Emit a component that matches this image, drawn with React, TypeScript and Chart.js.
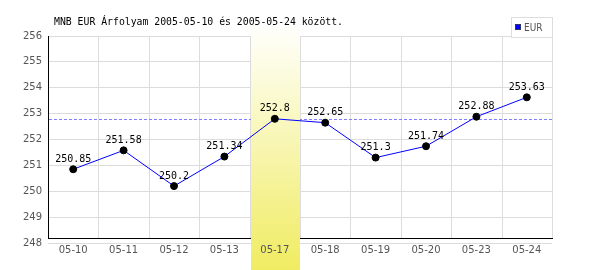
import React, { useEffect, useRef } from "react";
import { Chart, registerables } from "chart.js";

Chart.register(...registerables);

const categories = ["05-10", "05-11", "05-12", "05-13", "05-17", "05-18", "05-19", "05-20", "05-23", "05-24"];
const eurValues = [250.85, 251.58, 250.2, 251.34, 252.8, 252.65, 251.3, 251.74, 252.88, 253.63];
const yMin = 248;
const yMax = 256;
const highlightIndex = 4;
const referenceValue = 252.8;
const titleText = "MNB EUR Árfolyam 2005-05-10 és 2005-05-24 között.";
const seriesName = "EUR";

const decorPlugin = {
  id: "decor",
  beforeDatasetsDraw(chart: any) {
    const { ctx, chartArea } = chart;
    const xs = chart.scales.x;
    const ys = chart.scales.y;
    const { left, right, top } = chartArea;
    const n = categories.length;
    const axisY = Math.round(ys.getPixelForValue(yMin + 0.19)) + 0.5;
    ctx.save();
    // vertical grid lines (category boundaries)
    ctx.strokeStyle = "#dcdcdc";
    ctx.lineWidth = 1;
    for (let i = 1; i <= n; i++) {
      const x = Math.round(left + (i * (right - left)) / n) + 0.5;
      ctx.beginPath();
      ctx.moveTo(x, top);
      ctx.lineTo(x, axisY);
      ctx.stroke();
    }
    // reference dashed line
    const ry = Math.round(ys.getPixelForValue(referenceValue));
    ctx.fillStyle = "#8080ff";
    for (let x = Math.round(left) + 1; x < right; x += 5) {
      ctx.fillRect(x, ry, Math.min(3, right - x), 1);
    }
    // axis lines
    ctx.strokeStyle = "#000000";
    ctx.beginPath();
    ctx.moveTo(left + 0.5, top);
    ctx.lineTo(left + 0.5, axisY);
    ctx.moveTo(left, axisY);
    ctx.lineTo(right + 1, axisY);
    ctx.stroke();
    // highlight band
    const cx = xs.getPixelForValue(highlightIndex);
    const half = (right - left) / n / 2;
    const bx0 = Math.round(cx - half) + 1;
    const bx1 = Math.round(cx + half);
    const g = ctx.createLinearGradient(0, 27, 0, chart.height);
    g.addColorStop(0, "#fffffc");
    g.addColorStop(1, "#f0ec62");
    ctx.fillStyle = g;
    ctx.fillRect(bx0, 27, bx1 - bx0, chart.height - 27);
    ctx.restore();
  },
  afterDatasetsDraw(chart: any) {
    const { ctx } = chart;
    const meta = chart.getDatasetMeta(0);
    ctx.save();
    ctx.fillStyle = "#000000";
    ctx.font = "10px 'DejaVu Sans Mono'";
    ctx.textAlign = "center";
    ctx.textBaseline = "middle";
    meta.data.forEach((pt: any, i: number) => {
      ctx.fillText(String(eurValues[i]), pt.x, pt.y - 10);
    });
    // title
    ctx.textAlign = "left";
    ctx.textBaseline = "alphabetic";
    ctx.font = "9.8px 'DejaVu Sans Mono'";
    ctx.fillText(titleText, 54, 25);
    // legend
    ctx.fillStyle = "#ffffff";
    ctx.fillRect(511, 17, 41, 20);
    ctx.strokeStyle = "#dddddd";
    ctx.lineWidth = 1;
    ctx.strokeRect(511.5, 17.5, 41, 20);
    ctx.fillStyle = "#0000ff";
    ctx.fillRect(515, 24, 6, 6);
    ctx.strokeStyle = "#333366";
    ctx.strokeRect(515.5, 24.5, 5, 5);
    ctx.fillStyle = "#555555";
    ctx.font = "10px 'DejaVu Sans Condensed', 'DejaVu Sans'";
    ctx.textBaseline = "middle";
    ctx.fillText(seriesName, 524, 28);
    ctx.restore();
  },
};

export default function App() {
  const ref = useRef<HTMLCanvasElement | null>(null);
  useEffect(() => {
    document.body.style.margin = "0";
    const canvas = ref.current;
    if (!canvas) return;
    const chart = new Chart(canvas, {
      type: "line",
      data: {
        labels: categories,
        datasets: [
          {
            label: seriesName,
            data: eurValues,
            borderColor: "#0000ff",
            borderWidth: 1,
            pointRadius: 3.5,
            pointBackgroundColor: "#000000",
            pointBorderColor: "#000000",
            pointBorderWidth: 1,
            tension: 0,
            fill: false,
          },
        ],
      },
      options: {
        responsive: false,
        animation: false,
        devicePixelRatio: 1,
        events: [],
        layout: { padding: { left: 0, top: 36, right: 48, bottom: 0 } },
        plugins: { legend: { display: false }, title: { display: false }, tooltip: { enabled: false } },
        scales: {
          x: {
            type: "category",
            offset: true,
            grid: { display: false, offset: true, drawTicks: false },
            border: { display: false },
            ticks: {
              color: "#555555",
              font: { family: "'DejaVu Sans'", size: 10 },
              padding: 1,
              maxRotation: 0,
              autoSkip: false,
              z: 1,
            },
            afterFit: (s: any) => {
              s.height = 27;
            },
          },
          y: {
            min: yMin,
            max: yMax,
            grid: { color: "#dcdcdc", drawTicks: false },
            border: { display: false },
            ticks: {
              stepSize: 1,
              color: "#555555",
              font: { family: "'DejaVu Sans'", size: 10 },
              padding: 6,
            },
            afterFit: (s: any) => {
              s.width = 48;
            },
          },
        },
      },
      plugins: [decorPlugin],
    });
    return () => chart.destroy();
  }, []);
  return (
    <div style={{ width: 600, height: 270, background: "#ffffff" }}>
      <canvas ref={ref} width={600} height={270} />
    </div>
  );
}
